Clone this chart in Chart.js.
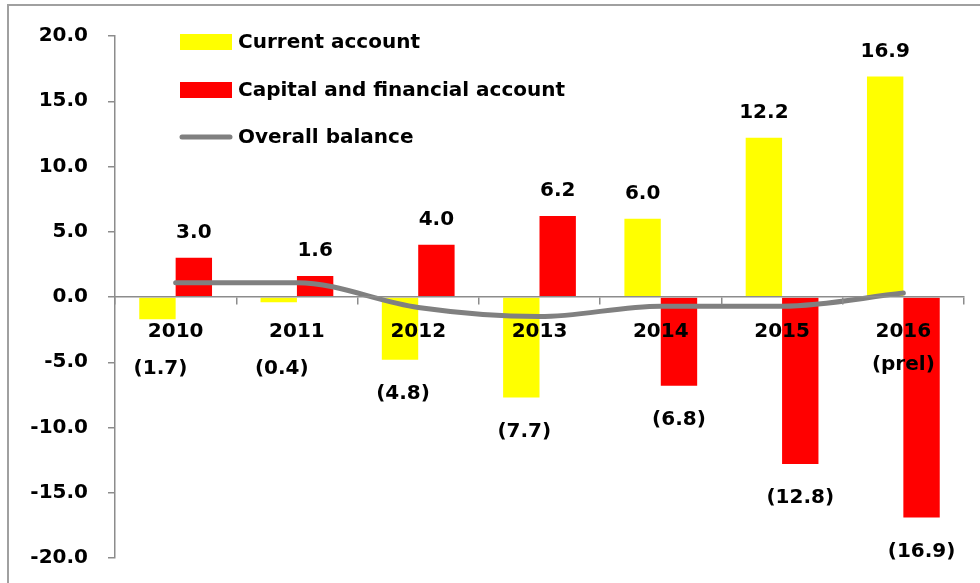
<!DOCTYPE html>
<html>
<head>
<meta charset="utf-8">
<script src="https://cdn.jsdelivr.net/npm/chart.js@4/dist/chart.umd.min.js"></script>
<style>
html,body{margin:0;padding:0;background:#fff;}
#wrap{width:980px;height:583px;position:relative;}
</style>
</head>
<body>
<div id="wrap"><canvas id="c" width="980" height="583"></canvas></div>
<script>
const categories = ['2010', '2011', '2012', '2013', '2014', '2015', ['2016', '(prel)']];
const currentAccount = [-1.7, -0.4, -4.8, -7.7, 6.0, 12.2, 16.9];
const capitalFinancial = [3.0, 1.6, 4.0, 6.2, -6.8, -12.8, -16.9];
const overallBalance = [1.1, 1.1, -0.8, -1.5, -0.7, -0.7, 0.3];
const seriesNames = ['Current account', 'Capital and financial account', 'Overall balance'];
const yMin = -20, yMax = 20, yStep = 5;

const FONT = 'DejaVu Sans';
const FSIZE = 20;

function fmt(v) {
  return v < 0 ? '(' + Math.abs(v).toFixed(1) + ')' : v.toFixed(1);
}

const frame = {
  id: 'frame',
  beforeDraw(chart) {
    const ctx = chart.ctx;
    ctx.save();
    ctx.fillStyle = '#fff';
    ctx.fillRect(0, 0, chart.width, chart.height);
    ctx.strokeStyle = '#a0a0a0';
    ctx.lineWidth = 2;
    ctx.strokeRect(8, 5, 1200, 1200);
    ctx.restore();
  }
};

const legendPlugin = {
  id: 'customLegend',
  afterDraw(chart) {
    const ctx = chart.ctx;
    ctx.save();
    ctx.font = 'bold ' + FSIZE + 'px "' + FONT + '"';
    ctx.textBaseline = 'middle';
    ctx.textAlign = 'left';
    ctx.fillStyle = '#000';
    const x0 = 180, x1 = 232, tx = 238;
    const rows = [42, 90, 137];
    chart.data.datasets.forEach((ds, i) => {
      const y = rows[i];
      if (ds.type === 'line') {
        ctx.strokeStyle = ds.borderColor;
        ctx.lineWidth = 5;
        ctx.lineCap = 'round';
        ctx.beginPath();
        ctx.moveTo(x0 + 2, y);
        ctx.lineTo(x1 - 2, y);
        ctx.stroke();
      } else {
        ctx.fillStyle = ds.backgroundColor;
        ctx.fillRect(x0, y - 8, x1 - x0, 16);
      }
      ctx.fillStyle = '#000';
      ctx.fillText(ds.label, tx, y + 1);
    });
    ctx.restore();
  }
};

const dataLabels = {
  id: 'dataLabels',
  afterDatasetsDraw(chart) {
    const ctx = chart.ctx;
    const yScale = chart.scales.y;
    const zeroY = yScale.getPixelForValue(0);
    ctx.save();
    ctx.font = 'bold ' + FSIZE + 'px "' + FONT + '"';
    ctx.textAlign = 'center';
    ctx.textBaseline = 'middle';
    ctx.fillStyle = '#000';
    [0, 1].forEach(di => {
      const meta = chart.getDatasetMeta(di);
      const vals = chart.data.datasets[di].data;
      meta.data.forEach((el, i) => {
        const v = vals[i];
        let ty;
        if (v >= 0) ty = el.y - 25;
        else ty = Math.max(el.y + 34, zeroY + 72);
        ctx.fillText(fmt(v), el.x + (v < 0 && di === 0 ? 3 : 0), ty);
      });
    });
    ctx.restore();
  }
};

new Chart(document.getElementById('c'), {
  data: {
    labels: categories,
    datasets: [
      { type: 'bar', label: seriesNames[0], data: currentAccount, backgroundColor: '#ffff00', order: 1,
        barPercentage: 1.0, categoryPercentage: 0.6 },
      { type: 'bar', label: seriesNames[1], data: capitalFinancial, backgroundColor: '#ff0000', order: 1,
        barPercentage: 1.0, categoryPercentage: 0.6 },
      { type: 'line', label: seriesNames[2], data: overallBalance, borderColor: '#808080', backgroundColor: '#808080',
        borderWidth: 5, pointRadius: 0, cubicInterpolationMode: 'monotone', order: 0, borderCapStyle: 'round', borderJoinStyle: 'round' }
    ]
  },
  options: {
    responsive: false,
    animation: false,
    devicePixelRatio: 1,
    layout: { padding: { left: 0, top: 36, right: 16, bottom: 25 } },
    plugins: { legend: { display: false }, tooltip: { enabled: false } },
    scales: {
      x: {
        position: { y: 0 },
        offset: true,
        afterFit(scale) { scale.paddingTop = 0; scale.paddingBottom = 0; scale.height = 0; },
        grid: { display: true, drawOnChartArea: false, drawTicks: true, tickLength: 7, offset: true, color: '#8c8c8c', lineWidth: 1.5, z: 1 },
        border: { display: true, color: '#8c8c8c', width: 1.5, z: 1 },
        ticks: { z: 1, color: '#000', font: { family: FONT, weight: 'bold', size: FSIZE, lineHeight: 1.65 }, padding: 11, maxRotation: 0, autoSkip: false }
      },
      y: {
        min: yMin, max: yMax,
        afterFit(scale) { scale.width = 115; scale.paddingTop = 0; scale.paddingBottom = 0; },
        grid: { display: true, drawOnChartArea: false, drawTicks: true, tickLength: 7, color: '#8c8c8c', lineWidth: 1.5 },
        border: { display: true, color: '#8c8c8c', width: 1.5 },
        ticks: { stepSize: yStep, color: '#000', padding: 20, font: { family: FONT, weight: 'bold', size: FSIZE },
          callback: v => Number(v).toFixed(1) }
      }
    }
  },
  plugins: [frame, dataLabels, legendPlugin]
});
</script>
</body>
</html>
